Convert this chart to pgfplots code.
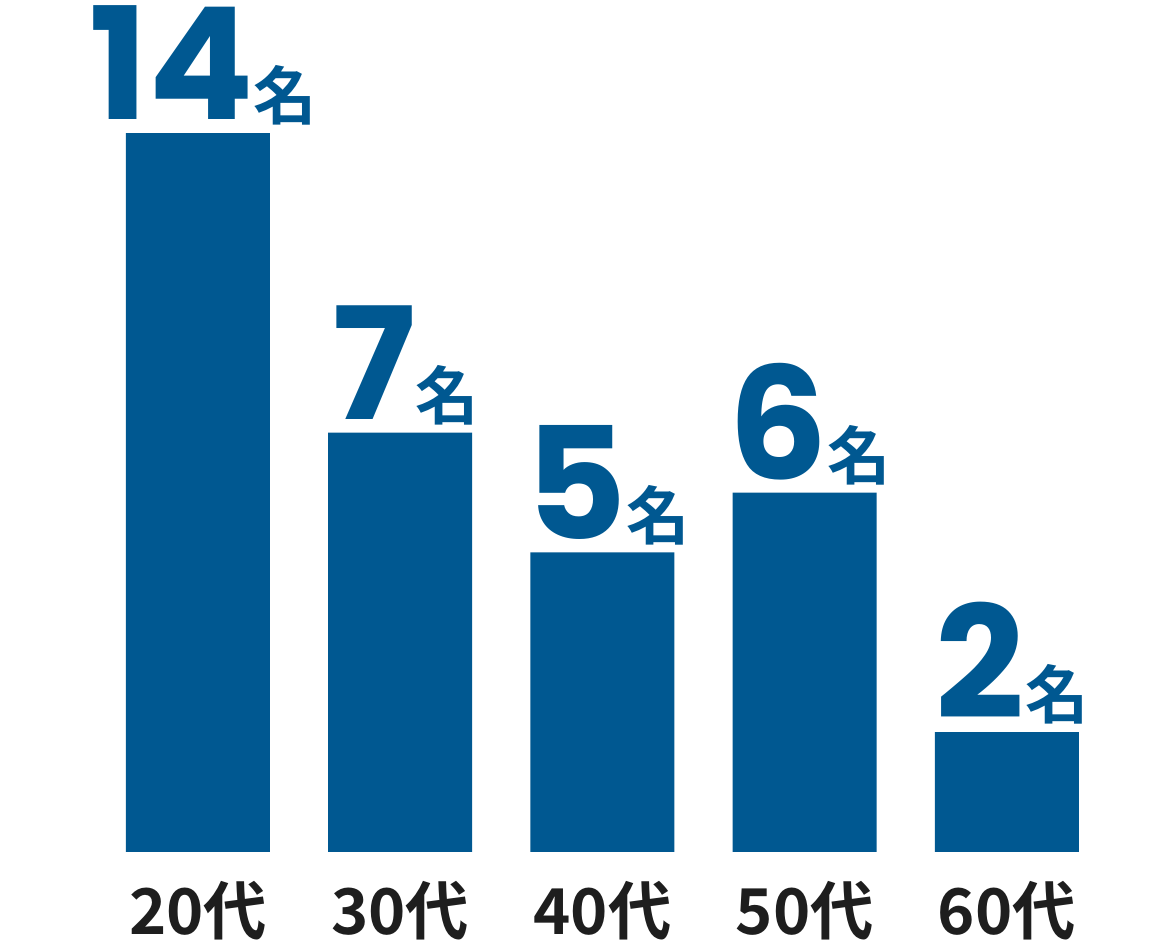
\documentclass[border=0pt]{standalone}
\usepackage{fontspec}
\usepackage{pgfplots}
\pgfplotsset{compat=1.18}
\newfontfamily\numfont{Poppins}
\newfontfamily\cjk{Noto Sans CJK JP}[BoldFont={Noto Sans CJK JP Bold}]
\definecolor{barblue}{HTML}{005891}
\definecolor{ticktext}{HTML}{1E1E1E}
\newcommand{\lbl}[1]{{\numfont\bfseries\fontsize{111pt}{111pt}\selectfont #1}{\cjk\bfseries\fontsize{45pt}{45pt}\selectfont 名}}
\begin{document}
\begin{tikzpicture}
\begin{axis}[
  at={(0,0)}, anchor=south west,
  scale only axis,
  width=290mm, height=213mm,
  xmin=-0.979, xmax=4.757,
  ymin=0, ymax=14.22,
  ybar, bar width=36mm,
  axis line style={draw=none},
  tick style={draw=none},
  ytick=\empty,
  xtick=data,
  xticklabels={20代,30代,40代,50代,60代},
  xticklabel style={font=\cjk\bfseries\fontsize{45pt}{45pt}\selectfont, text=ticktext, anchor=base, yshift=-19mm},
  y filter/.expression={min(y,12)},
  point meta=explicit symbolic,
  nodes near coords={\lbl{\pgfplotspointmeta}},
  every node near coord/.append style={anchor=base, yshift=3.3mm, xshift=1.3mm, text=barblue, inner sep=0pt},
  clip=false,
]
\addplot[fill=barblue, draw=none] coordinates {
  (0,14) [14]
  (1,7) [7]
  (2,5) [5]
  (3,6) [6]
  (4,2) [2]
};
\end{axis}
\pgfresetboundingbox
\path (0,-22.5mm) rectangle (290mm,213mm);
\end{tikzpicture}
\end{document}
